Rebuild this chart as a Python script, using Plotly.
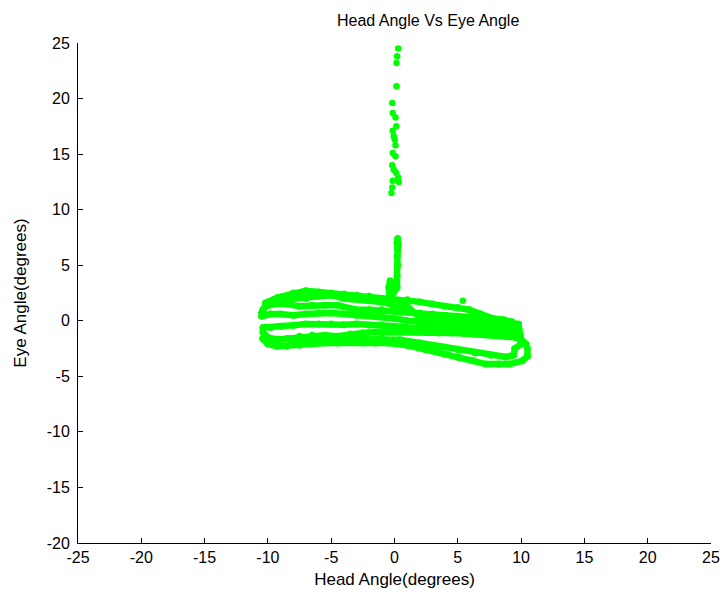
import plotly.graph_objects as go

# Head / eye angle trajectory (degrees), recorded as successive sweeps of the head
sweep1_head = [-10.4, -10.0, -9.2, -8.0, -7.0, -6.0, -5.0, -4.0, -3.0, -2.0, -1.0, 0.0, 1.0, 2.0, 3.0, 4.0, 5.0, 5.9, 6.8, 7.8, 8.6, 9.3, 9.7]
sweep1_eye = [1.0, 1.7, 2.1, 2.5, 2.7, 2.6, 2.5, 2.4, 2.3, 2.2, 2.0, 1.9, 1.9, 1.7, 1.5, 1.3, 1.2, 1.0, 0.6, 0.2, 0.1, -0.1, -0.5]

sweep2_head = [9.6, 8.8, 8.0, 7.2, 6.5, 5.0, 4.0, 3.0, 2.0, 1.0, 0.0, -1.0, -2.0, -3.0, -4.5, -5.5, -6.5, -7.5, -8.5, -9.5, -10.2, -10.5]
sweep2_eye = [-0.6, -0.4, -0.2, 0.1, 0.3, 0.4, 0.5, 0.6, 0.7, 0.8, 0.9, 1.0, 1.0, 1.0, 1.4, 1.4, 1.4, 1.3, 1.5, 1.5, 1.3, 0.7]

sweep3_head = [-10.5, -9.8, -9.0, -8.0, -7.0, -6.0, -5.0, -4.0, -3.0, -2.0, -1.0, 0.0, 1.0, 2.0, 3.0, 4.0, 5.0, 6.0, 7.0, 8.0, 9.0, 9.8]
sweep3_eye = [0.4, 0.6, 0.6, 0.5, 0.6, 0.7, 0.7, 0.6, 0.5, 0.5, 0.4, 0.2, 0.0, -0.1, -0.1, -0.2, -0.3, -0.4, -0.5, -0.5, -0.6, -0.9]

sweep4_head = [9.9, 9.2, 8.5, 7.8, 7.0, 6.0, 5.0, 4.0, 3.0, 2.0, 1.0, 0.0, -1.0, -2.0, -3.0, -4.0, -5.0, -6.0, -7.0, -8.0, -9.0, -9.8, -10.4]
sweep4_eye = [-1.3, -1.1, -1.0, -0.9, -0.9, -0.8, -0.8, -0.7, -0.7, -0.7, -0.6, -0.5, -0.4, -0.4, -0.3, -0.35, -0.3, -0.3, -0.3, -0.4, -0.5, -0.6, -0.6]

sweep5_head = [-10.4, -10.0, -9.4, -8.5, -7.5, -6.5, -5.5, -4.5, -3.5, -2.5, -1.5, -0.5, 0.5, 1.5, 2.5, 3.5, 4.5, 5.5, 6.5, 7.8, 8.8, 9.6, 10.2]
sweep5_eye = [-1.0, -1.5, -1.7, -1.6, -1.4, -1.3, -1.3, -1.4, -1.2, -1.1, -1.0, -1.0, -1.0, -1.0, -1.05, -1.1, -1.1, -1.15, -1.2, -1.3, -1.4, -1.5, -1.9]

sweep6_head = [10.5, 10.5, 10.1, 9.1, 8.2, 7.2, 6.2, 5.1, 4.0, 2.5, 1.0, -0.5, -1.5, -2.5, -3.5, -4.5, -5.5, -6.5, -7.5, -8.5, -9.3, -10.0, -10.4]
sweep6_eye = [-2.5, -3.2, -3.6, -3.9, -3.9, -3.9, -3.6, -3.3, -3.0, -2.6, -2.2, -2.0, -2.0, -2.0, -1.9, -2.0, -2.0, -2.1, -2.2, -2.3, -2.3, -2.1, -1.6]

sweep7_head = [-10.4, -9.0, -7.5, -6.0, -4.5, -3.0, -1.0, 0.4, 2.0, 3.8, 5.0, 6.4, 7.6, 8.8, 9.4, 9.5, 10.0, 10.4]
sweep7_eye = [-1.6, -1.7, -1.7, -1.6, -1.6, -1.6, -1.6, -1.7, -2.0, -2.35, -2.6, -2.9, -3.1, -3.25, -3.1, -2.5, -2.1, -2.1]

sweep8_head = [10.0, 9.8, 9.0, 8.0, 7.0, 6.0, 5.0, 4.0, 3.0, 2.0, 1.0, 0.0, -1.0, -2.0, -3.0, -4.0, -5.0, -6.0, -7.0, -8.0, -9.0, -10.2]
sweep8_eye = [-1.7, -0.3, -0.2, 0.0, -0.1, 0.0, 0.0, 0.1, 0.2, 0.3, 1.3, 1.4, 1.7, 1.8, 2.0, 2.0, 2.3, 2.2, 2.0, 2.0, 2.0, 1.6]

# Near-zero head angle with large eye excursions
spike_head = [0.0, -0.4, -0.45, -0.35, -0.1, 0.2, 0.2, 0.25, 0.2, 0.25, 0.2, 0.25, 0.3]
spike_eye = [1.4, 2.0, 3.0, 3.6, 2.5, 3.0, 4.0, 5.0, 5.8, 6.4, 7.0, 7.4, 6.8]

scatter_head = [0.29, 0.21, 0.16, 0.16, -0.18, -0.14, 0.08, 0.14, -0.14, -0.06, 0.02, 0.08, -0.14, 0.08, -0.18, -0.06, 0.14, 0.29, 0.34, -0.14, -0.18, -0.24, 5.4, 6.3, 7.1, 8.4]
scatter_eye = [24.5, 23.8, 23.2, 21.1, 19.6, 18.7, 18.3, 17.5, 17.1, 16.6, 16.3, 15.8, 15.1, 14.8, 14.0, 13.6, 13.3, 12.9, 12.5, 12.6, 12.0, 11.5, 1.8, 0.0, 0.2, -0.2]

x_ticks = [-25, -20, -15, -10, -5, 0, 5, 10, 15, 20, 25]
y_ticks = [-20, -15, -10, -5, 0, 5, 10, 15, 20, 25]

GREEN = "#00ff00"
FONT = "Liberation Sans, Arial, sans-serif"

sweeps = [
    (sweep1_head, sweep1_eye),
    (sweep2_head, sweep2_eye),
    (sweep3_head, sweep3_eye),
    (sweep4_head, sweep4_eye),
    (sweep5_head, sweep5_eye),
    (sweep6_head, sweep6_eye),
    (sweep7_head, sweep7_eye),
    (sweep8_head, sweep8_eye),
    (spike_head, spike_eye),
]

fig = go.Figure()
for hx, ey in sweeps:
    fig.add_trace(go.Scatter(
        x=hx, y=ey, mode="lines+markers",
        line=dict(color=GREEN, width=6.5),
        marker=dict(color=GREEN, size=7),
        showlegend=False, hoverinfo="skip",
    ))
fig.add_trace(go.Scatter(
    x=scatter_head, y=scatter_eye, mode="markers",
    marker=dict(color=GREEN, size=6.5),
    showlegend=False, hoverinfo="skip",
))

axis_common = dict(
    showgrid=False, zeroline=False, automargin=False,
    showline=True, linecolor="black", linewidth=1, mirror=False,
    ticks="inside", ticklen=5, tickcolor="black", tickwidth=1,
    tickfont=dict(family=FONT, size=16, color="black"),
)

fig.update_layout(
    width=722, height=595,
    margin=dict(l=78, r=11, t=43, b=52, autoexpand=False),
    paper_bgcolor="white", plot_bgcolor="white",
    title=dict(text="Head Angle Vs Eye Angle", x=0.593, xanchor="center",
               y=1 - 20 / 595, yanchor="middle", yref="container",
               font=dict(family=FONT, size=16, color="black")),
    xaxis=dict(range=[-25, 25], tickvals=x_ticks, ticktext=[str(v) for v in x_ticks],
               title=dict(text="Head Angle(degrees)", standoff=7,
                          font=dict(family=FONT, size=17, color="black")),
               **axis_common),
    yaxis=dict(range=[-20, 25], tickvals=y_ticks, ticktext=[str(v) for v in y_ticks],
               ticklabelstandoff=4,
               title=dict(text="Eye Angle(degrees)", standoff=15,
                          font=dict(family=FONT, size=17, color="black")),
               **axis_common),
)

fig.write_html("out.html")
